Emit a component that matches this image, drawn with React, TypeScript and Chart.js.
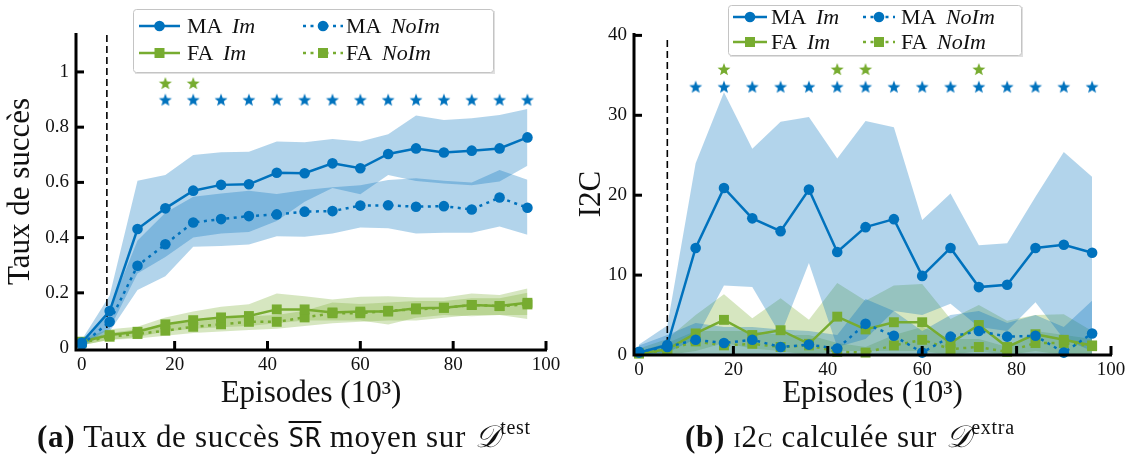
import React, { useEffect, useRef } from 'react';
import { Chart, registerables } from 'chart.js';

Chart.register(...registerables);

const BLUE = '#0072BD';
const GREEN = '#77AC30';
const BLUE_BAND = 'rgba(0,114,189,0.3)';
const GREEN_BAND = 'rgba(119,172,48,0.3)';
const SERIF = "'Liberation Serif', 'DejaVu Serif', serif";

// ---------- data ----------
const episodes = [0, 6, 12, 18, 24, 30, 36, 42, 48, 54, 60, 66, 72, 78, 84, 90, 96];

// (a) success rate
const leftMaIm = [0.02, 0.134, 0.431, 0.506, 0.57, 0.591, 0.593, 0.635, 0.633, 0.669, 0.651, 0.703, 0.723, 0.708, 0.715, 0.723, 0.763];
const leftMaImHi = [0.03, 0.19, 0.606, 0.627, 0.699, 0.709, 0.711, 0.748, 0.745, 0.757, 0.748, 0.774, 0.842, 0.826, 0.832, 0.844, 0.866];
const leftMaImLo = [0.01, 0.07, 0.27, 0.33, 0.4, 0.415, 0.42, 0.46, 0.53, 0.58, 0.557, 0.627, 0.605, 0.596, 0.59, 0.603, 0.66];
const leftMaNoIm = [0.012, 0.095, 0.298, 0.376, 0.455, 0.467, 0.478, 0.484, 0.494, 0.496, 0.516, 0.517, 0.512, 0.514, 0.502, 0.545, 0.508];
const leftMaNoImHi = [0.02, 0.14, 0.39, 0.49, 0.548, 0.56, 0.57, 0.558, 0.572, 0.582, 0.59, 0.609, 0.615, 0.606, 0.6, 0.645, 0.61];
const leftMaNoImLo = [0.005, 0.06, 0.21, 0.26, 0.367, 0.37, 0.375, 0.405, 0.403, 0.415, 0.437, 0.434, 0.415, 0.418, 0.418, 0.44, 0.41];
const leftFaIm = [0.023, 0.047, 0.059, 0.086, 0.101, 0.111, 0.116, 0.14, 0.14, 0.129, 0.132, 0.132, 0.144, 0.146, 0.156, 0.152, 0.164];
const leftFaImHi = [0.035, 0.068, 0.077, 0.111, 0.132, 0.15, 0.159, 0.198, 0.188, 0.176, 0.186, 0.188, 0.183, 0.183, 0.198, 0.192, 0.216];
const leftFaImLo = [0.01, 0.03, 0.04, 0.06, 0.07, 0.075, 0.08, 0.09, 0.1, 0.1, 0.1, 0.085, 0.11, 0.12, 0.115, 0.12, 0.12];
const leftFaNoIm = [0.02, 0.041, 0.051, 0.063, 0.077, 0.086, 0.095, 0.095, 0.111, 0.126, 0.126, 0.135, 0.14, 0.146, 0.156, 0.152, 0.158];
const leftFaNoImHi = [0.03, 0.055, 0.068, 0.085, 0.095, 0.105, 0.115, 0.12, 0.135, 0.165, 0.16, 0.165, 0.17, 0.17, 0.18, 0.18, 0.2];
const leftFaNoImLo = [0.01, 0.03, 0.035, 0.045, 0.055, 0.06, 0.065, 0.07, 0.08, 0.09, 0.095, 0.1, 0.1, 0.11, 0.12, 0.12, 0.105];
const leftStarsBlue = [18, 24, 30, 36, 42, 48, 54, 60, 66, 72, 78, 84, 90, 96];
const leftStarsGreen = [18, 24];
const leftStarBlueLevel = 0.9;
const leftStarGreenLevel = 0.96;
const leftWarmup = 5.4;

// (b) I2C
const rightMaIm = [0.3, 1.25, 13.4, 20.9, 17.1, 15.5, 20.7, 12.9, 16.0, 17.0, 9.9, 13.4, 8.5, 8.8, 13.4, 13.8, 12.8];
const rightMaImHi = [1.3, 3.7, 24.0, 32.9, 25.8, 29.2, 29.8, 24.6, 29.3, 28.5, 16.9, 20.2, 13.75, 14.0, 19.8, 25.4, 22.3];
const rightMaImLo = [0, 0.3, 2.0, 8.7, 8.5, 2.5, 11.5, 1.0, 2.0, 5.5, 5.0, 6.4, 3.5, 3.0, 6.6, 2.0, 0.5];
const rightMaNoIm = [0.4, 1.0, 1.9, 1.5, 1.9, 1.0, 1.3, 0.8, 3.9, 2.4, 0.3, 2.3, 3.0, 2.3, 2.4, 0.3, 2.7];
const rightMaNoImHi = [1.2, 2.5, 4.0, 3.5, 3.5, 3.2, 3.0, 2.5, 7.0, 5.5, 3.0, 5.0, 5.5, 4.0, 5.0, 3.5, 6.8];
const rightMaNoImLo = [0, 0, 0, 0, 0, 0, 0, 0, 0, 0, 0, 0, 0, 0, 0, 0, 0];
const rightFaIm = [0.2, 0.7, 2.7, 4.4, 2.5, 3.1, 1.4, 4.8, 3.2, 4.1, 4.1, 1.5, 3.75, 1.0, 2.6, 1.9, 1.2];
const rightFaImHi = [0.8, 2.0, 5.0, 7.6, 4.6, 7.1, 4.4, 9.0, 6.8, 8.7, 8.9, 4.5, 6.25, 4.3, 5.0, 5.1, 3.0];
const rightFaImLo = [0, 0, 0.5, 1.5, 0.8, 0.5, 0, 0.5, 0.5, 0.5, 0.5, 0, 0.5, 0, 0.5, 0, 0];
const rightFaNoIm = [0.2, 0.6, 1.7, 1.2, 1.4, 1.0, 1.2, 0.4, 0.3, 1.2, 1.9, 0.75, 1.0, 0.4, 1.5, 1.5, 1.1];
const rightFaNoImHi = [0.5, 1.5, 3.0, 3.0, 3.0, 2.5, 2.5, 1.5, 1.0, 2.5, 3.5, 2.0, 2.0, 1.0, 3.0, 2.5, 2.0];
const rightFaNoImLo = [0, 0, 0, 0, 0, 0, 0, 0, 0, 0, 0, 0, 0, 0, 0, 0, 0];
const rightStarsBlue = [12, 18, 24, 30, 36, 42, 48, 54, 60, 66, 72, 78, 84, 90, 96];
const rightStarsGreen = [18, 42, 48, 72];
const rightStarBlueLevel = 33.6;
const rightStarGreenLevel = 35.8;
const rightWarmup = 6;

const xTicks = [0, 20, 40, 60, 80, 100];
const xTickLabels = ['0', '20', '40', '60', '80', '100'];
const leftYTicks = [0, 0.2, 0.4, 0.6, 0.8, 1];
const leftYTickLabels = ['0', '0.2', '0.4', '0.6', '0.8', '1'];
const rightYTicks = [0, 10, 20, 30, 40];
const rightYTickLabels = ['0', '10', '20', '30', '40'];

const legendLabels: [string, string][] = [
  ['MA ', 'Im'],
  ['MA ', 'NoIm'],
  ['FA ', 'Im'],
  ['FA ', 'NoIm'],
];
const xTitle = 'Episodes (10³)';
const leftYTitle = 'Taux de succès';
const rightYTitle = 'I2C';

// ---------- helpers ----------
function pts(ys: number[]) {
  return episodes.map((x, i) => ({ x, y: ys[i] }));
}

function starImage(color: string, r: number) {
  const size = Math.ceil(r * 2 + 2);
  const c = document.createElement('canvas');
  c.width = size;
  c.height = size;
  const ctx = c.getContext('2d')!;
  ctx.fillStyle = color;
  ctx.beginPath();
  for (let i = 0; i < 10; i++) {
    const a = -Math.PI / 2 + (i * Math.PI) / 5;
    const rr = i % 2 === 0 ? r : r * 0.42;
    const x = size / 2 + rr * Math.cos(a);
    const y = size / 2 + 0.8 + rr * Math.sin(a);
    if (i === 0) ctx.moveTo(x, y);
    else ctx.lineTo(x, y);
  }
  ctx.closePath();
  ctx.fill();
  return c;
}

function lineDs(ys: number[], color: string, dotted: boolean, style: string) {
  const isRect = style === 'rect';
  return {
    type: 'line',
    data: pts(ys),
    borderColor: color,
    backgroundColor: color,
    borderWidth: 2.5,
    borderDash: dotted ? [3, 4.5] : [],
    pointStyle: style,
    pointRadius: isRect ? 7 : 5.3,
    pointBorderWidth: 0,
    pointBackgroundColor: color,
    fill: false,
    tension: 0,
    order: 1,
    clip: false,
  };
}

function bandDs(hi: number[], lo: number[], color: string) {
  return [
    {
      type: 'line',
      data: pts(hi),
      borderWidth: 0,
      borderColor: 'rgba(0,0,0,0)',
      pointRadius: 0,
      fill: '+1',
      backgroundColor: color,
      tension: 0,
      order: 5,
    },
    {
      type: 'line',
      data: pts(lo),
      borderWidth: 0,
      borderColor: 'rgba(0,0,0,0)',
      pointRadius: 0,
      fill: false,
      tension: 0,
      order: 5,
    },
  ];
}

function starDs(xs: number[], level: number, img: HTMLCanvasElement) {
  return {
    type: 'line',
    data: xs.map((x) => ({ x, y: level })),
    showLine: false,
    pointStyle: img,
    pointRadius: 7,
    order: 0,
    clip: false,
  };
}

type PanelSpec = {
  canvasW: number;
  xMin: number;
  yMin: number;
  yMax: number;
  yTicks: number[];
  yTickLabels: string[];
  yTitle: string;
  yTitlePad: number;
  padTop: number;
  padRight: number;
  yAxisW: number;
  xAxisH: number;
  warmup: number;
  dashTop: number;
  series: {
    maIm: number[]; maImHi: number[]; maImLo: number[];
    maNoIm: number[]; maNoImHi: number[]; maNoImLo: number[];
    faIm: number[]; faImHi: number[]; faImLo: number[];
    faNoIm: number[]; faNoImHi: number[]; faNoImLo: number[];
  };
  starsBlue: number[];
  starsGreen: number[];
  starBlueLevel: number;
  starGreenLevel: number;
  legend: { box: [number, number, number, number]; rows: [number, number]; cols: { s: number; e: number; t: number }[] };
};

function decorPlugin(spec: PanelSpec) {
  return {
    id: 'decor',
    afterDatasetsDraw(chart: any) {
      const ctx = chart.ctx as CanvasRenderingContext2D;
      const { left, right, top, bottom } = chart.chartArea;
      const xs = chart.scales.x;
      const ys = chart.scales.y;
      ctx.save();
      ctx.strokeStyle = '#000';
      ctx.lineWidth = 3;
      ctx.setLineDash([]);
      ctx.beginPath();
      ctx.moveTo(left, top);
      ctx.lineTo(left, bottom);
      ctx.lineTo(right + 1, bottom);
      ctx.stroke();
      spec.yTicks.forEach((v) => {
        if (v === spec.yTicks[0]) return;
        const py = ys.getPixelForValue(v);
        ctx.beginPath();
        ctx.moveTo(left, py);
        ctx.lineTo(left + 8, py);
        ctx.stroke();
      });
      xTicks.forEach((v) => {
        if (v === 0) return;
        const px = xs.getPixelForValue(v);
        ctx.beginPath();
        ctx.moveTo(px, bottom);
        ctx.lineTo(px, bottom - 9);
        ctx.stroke();
      });
      ctx.restore();
    },
    afterDraw(chart: any) {
      const ctx = chart.ctx as CanvasRenderingContext2D;
      const L = spec.legend;
      const [bx, by, bw, bh] = L.box;
      ctx.save();
      ctx.fillStyle = 'rgba(0,0,0,0.12)';
      ctx.fillRect(bx + 2, by + 2, bw, bh);
      ctx.fillStyle = '#fff';
      ctx.strokeStyle = '#c4c4c4';
      ctx.lineWidth = 1;
      ctx.beginPath();
      (ctx as any).roundRect(bx + 0.5, by + 0.5, bw, bh, 3);
      ctx.fill();
      ctx.stroke();
      const entries = [
        { color: BLUE, dotted: false, style: 'circle' },
        { color: BLUE, dotted: true, style: 'circle' },
        { color: GREEN, dotted: false, style: 'rect' },
        { color: GREEN, dotted: true, style: 'rect' },
      ];
      entries.forEach((en, i) => {
        const row = Math.floor(i / 2);
        const col = L.cols[i % 2];
        const y = L.rows[row];
        ctx.strokeStyle = en.color;
        ctx.fillStyle = en.color;
        ctx.lineWidth = 2.5;
        ctx.setLineDash(en.dotted ? [3, 4.5] : []);
        ctx.beginPath();
        ctx.moveTo(col.s, y);
        ctx.lineTo(col.e, y);
        ctx.stroke();
        ctx.setLineDash([]);
        const mx = (col.s + col.e) / 2;
        ctx.beginPath();
        if (en.style === 'circle') ctx.arc(mx, y, 5.3, 0, Math.PI * 2);
        else ctx.rect(mx - 5, y - 5, 10, 10);
        ctx.fill();
        const [plain, ital] = legendLabels[i];
        ctx.fillStyle = '#111';
        ctx.textBaseline = 'middle';
        ctx.textAlign = 'left';
        ctx.font = `22px ${SERIF}`;
        ctx.fillText(plain, col.t, y + 1);
        const w = ctx.measureText(plain).width;
        ctx.font = `italic 22px ${SERIF}`;
        ctx.fillText(ital, col.t + w + 4, y + 1);
      });
      ctx.restore();
    },
  };
}

function buildConfig(spec: PanelSpec): any {
  const s = spec.series;
  const blueStar = starImage(BLUE, 6.8);
  const greenStar = starImage(GREEN, 6.8);
  const datasets: any[] = [
    lineDs(s.maIm, BLUE, false, 'circle'),
    lineDs(s.maNoIm, BLUE, true, 'circle'),
    lineDs(s.faIm, GREEN, false, 'rect'),
    lineDs(s.faNoIm, GREEN, true, 'rect'),
    starDs(spec.starsBlue, spec.starBlueLevel, blueStar),
    starDs(spec.starsGreen, spec.starGreenLevel, greenStar),
    {
      type: 'line',
      data: [
        { x: spec.warmup, y: spec.yMin },
        { x: spec.warmup, y: spec.dashTop },
      ],
      borderColor: '#000',
      borderWidth: 1.6,
      borderDash: [7, 4],
      pointRadius: 0,
      fill: false,
      order: 2,
    },
    ...bandDs(s.maImHi, s.maImLo, BLUE_BAND),
    ...bandDs(s.maNoImHi, s.maNoImLo, BLUE_BAND),
    ...bandDs(s.faImHi, s.faImLo, GREEN_BAND),
    ...bandDs(s.faNoImHi, s.faNoImLo, GREEN_BAND),
  ];
  return {
    type: 'line',
    data: { datasets },
    plugins: [decorPlugin(spec)],
    options: {
      responsive: false,
      animation: false,
      devicePixelRatio: 1,
      layout: { padding: { top: spec.padTop, right: spec.padRight, left: 0, bottom: 0 } },
      plugins: { legend: { display: false }, tooltip: { enabled: false } },
      scales: {
        x: {
          type: 'linear',
          min: spec.xMin,
          max: 100,
          afterBuildTicks: (sc: any) => {
            sc.ticks = xTicks.map((v) => ({ value: v }));
          },
          afterFit: (sc: any) => {
            sc.height = spec.xAxisH;
          },
          ticks: {
            autoSkip: false,
            maxRotation: 0,
            padding: 4,
            color: '#111',
            font: { family: SERIF, size: 19 },
            callback: (_v: any, i: number) => xTickLabels[i],
          },
          grid: { display: false, drawTicks: false },
          border: { display: false },
          title: {
            display: true,
            text: xTitle,
            color: '#111',
            font: { family: SERIF, size: 31 },
            padding: { top: 0, bottom: 8 },
          },
        },
        y: {
          type: 'linear',
          min: spec.yMin,
          max: spec.yMax,
          afterBuildTicks: (sc: any) => {
            sc.ticks = spec.yTicks.map((v) => ({ value: v }));
          },
          afterFit: (sc: any) => {
            sc.width = spec.yAxisW;
          },
          ticks: {
            autoSkip: false,
            padding: 7,
            color: '#111',
            font: { family: SERIF, size: 19 },
            callback: (_v: any, i: number) => spec.yTickLabels[i],
          },
          grid: { display: false, drawTicks: false },
          border: { display: false },
          title: {
            display: true,
            text: spec.yTitle,
            color: '#111',
            font: { family: SERIF, size: 31 },
            padding: { top: spec.yTitlePad, bottom: 0 },
          },
        },
      },
    },
  };
}

const leftSpec: PanelSpec = {
  canvasW: 565,
  xMin: -1.25,
  yMin: -0.007,
  yMax: 1.141,
  yTicks: leftYTicks,
  yTickLabels: leftYTickLabels,
  yTitle: leftYTitle,
  yTitlePad: 2.5,
  padTop: 33,
  padRight: 19,
  yAxisW: 76,
  xAxisH: 70,
  warmup: leftWarmup,
  dashTop: 1.141,
  series: {
    maIm: leftMaIm, maImHi: leftMaImHi, maImLo: leftMaImLo,
    maNoIm: leftMaNoIm, maNoImHi: leftMaNoImHi, maNoImLo: leftMaNoImLo,
    faIm: leftFaIm, faImHi: leftFaImHi, faImLo: leftFaImLo,
    faNoIm: leftFaNoIm, faNoImHi: leftFaNoImHi, faNoImLo: leftFaNoImLo,
  },
  starsBlue: leftStarsBlue,
  starsGreen: leftStarsGreen,
  starBlueLevel: leftStarBlueLevel,
  starGreenLevel: leftStarGreenLevel,
  legend: {
    box: [133, 9, 360, 63],
    rows: [26, 53],
    cols: [
      { s: 139, e: 180, t: 187 },
      { s: 303, e: 343, t: 346 },
    ],
  },
};

const rightSpec: PanelSpec = {
  canvasW: 566,
  xMin: -1.06,
  yMin: 0,
  yMax: 40.3,
  yTicks: rightYTicks,
  yTickLabels: rightYTickLabels,
  yTitle: rightYTitle,
  yTitlePad: 8.5,
  padTop: 33,
  padRight: 20,
  yAxisW: 69,
  xAxisH: 65,
  warmup: rightWarmup,
  dashTop: 39.8,
  series: {
    maIm: rightMaIm, maImHi: rightMaImHi, maImLo: rightMaImLo,
    maNoIm: rightMaNoIm, maNoImHi: rightMaNoImHi, maNoImLo: rightMaNoImLo,
    faIm: rightFaIm, faImHi: rightFaImHi, faImLo: rightFaImLo,
    faNoIm: rightFaNoIm, faNoImHi: rightFaNoImHi, faNoImLo: rightFaNoImLo,
  },
  starsBlue: rightStarsBlue,
  starsGreen: rightStarsGreen,
  starBlueLevel: rightStarBlueLevel,
  starGreenLevel: rightStarGreenLevel,
  legend: {
    box: [163, 5, 293, 50],
    rows: [17, 42],
    cols: [
      { s: 168, e: 202, t: 206 },
      { s: 298, e: 330, t: 336 },
    ],
  },
};

function Panel({ spec, left }: { spec: PanelSpec; left: number }) {
  const ref = useRef<HTMLCanvasElement>(null);
  useEffect(() => {
    const chart = new Chart(ref.current as HTMLCanvasElement, buildConfig(spec));
    return () => chart.destroy();
  }, [spec]);
  return (
    <canvas
      ref={ref}
      width={spec.canvasW}
      height={420}
      style={{ position: 'absolute', left, top: 0, width: spec.canvasW, height: 420 }}
    />
  );
}

const captionStyle: React.CSSProperties = {
  position: 'absolute',
  top: 421,
  fontFamily: SERIF,
  fontSize: 31,
  letterSpacing: '0.7px',
  lineHeight: '1',
  whiteSpace: 'nowrap',
  color: '#111',
};
const supStyle: React.CSSProperties = { fontSize: 20, position: 'relative', top: -13 };

export default function App() {
  return (
    <div
      style={{
        position: 'absolute',
        left: 0,
        top: 0,
        width: 1131,
        height: 465,
        background: '#fff',
        overflow: 'hidden',
      }}
    >
      <Panel spec={leftSpec} left={0} />
      <Panel spec={rightSpec} left={565} />
      <div style={{ ...captionStyle, left: 37 }}>
        <b>(a)</b> Taux de succès{' '}
        <span style={{ fontFamily: "'DejaVu Sans Mono', monospace", fontSize: 26, textDecoration: 'overline' }}>SR</span>{' '}
        moyen sur <span style={{ fontStyle: 'italic' }}>𝒟</span>
        <span style={supStyle}>test</span>
      </div>
      <div style={{ ...captionStyle, left: 685 }}>
        <b>(b)</b> <span style={{ fontVariant: 'small-caps' }}>i2c</span> calculée sur{' '}
        <span style={{ fontStyle: 'italic' }}>𝒟</span>
        <span style={supStyle}>extra</span>
      </div>
    </div>
  );
}
